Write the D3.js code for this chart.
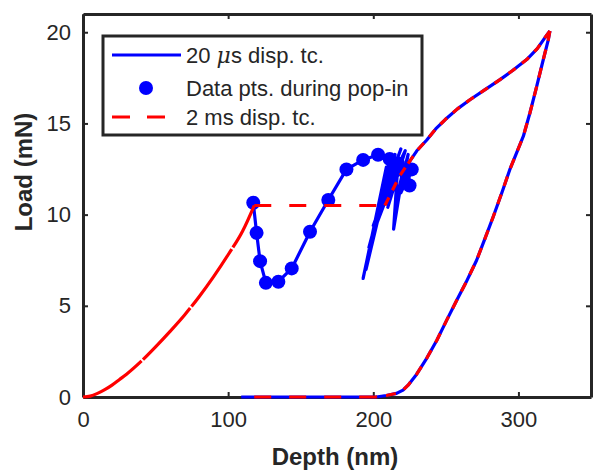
<!DOCTYPE html>
<html>
<head>
<meta charset="utf-8">
<script src="https://cdn.jsdelivr.net/npm/d3@7"></script>
<style>
  body { margin: 0; background: #fff; }
  svg { display: block; font-family: "Liberation Sans", Arial, sans-serif; }
</style>
</head>
<body>
<svg id="chart" width="594" height="471"></svg>
<script>
// depth (nm), load (mN)
var loadBeforePopIn = [[0,0],[5,0.05],[10,0.2],[15,0.4],[20,0.65],[25,0.95],[30,1.25],[40,1.95],[50,2.75],[60,3.6],[70,4.5],[80,5.5],[90,6.6],[100,7.8],[110,9.1],[118,10.5]];
var popInFlat = [[118,10.5],[208,10.5]];
var redReload = [[208,10.5],[213,11.3],[218,12.1],[224,12.8]];
var sharedLoading = [[224,12.8],[230,13.5],[236.7,14.08],[243,14.7],[249.4,15.2],[258,15.8],[266.6,16.3],[277,16.85],[287.3,17.4],[296,17.9],[305.7,18.5],[313,19.1],[319.5,19.84],[321.7,20.07]];
var sharedUnloading = [[321.7,20.07],[320.6,19.6],[316.5,18.3],[312.5,17.0],[308,15.6],[303.4,14.3],[298.8,13.4],[294.2,12.5],[289,11.3],[282.7,9.9],[277,8.7],[271.2,7.5],[264,6.3],[257.5,5.3],[250.5,4.2],[243.7,3.1],[237,2.15],[229.9,1.25],[224,0.65],[220.5,0.38],[216,0.2],[209,0.08],[202,0]];
var bottomFlat = [[202,0],[109,0]];
var bluePopIn = [[117.3,10.65],[119.6,9.0],[122,7.45],[126,6.26],[134.6,6.32],[143.8,7.05],[156.4,9.06],[169,10.8],[181.5,12.48],[193,13.0],[203.3,13.28],[211.3,13.05],
  [196,7.4],[209,12.6],[193,6.5],[208,12.2],[195,7.0],[213,13.0],[197,8.2],[215,13.3],[199,8.8],[212,11.5],[200,9.4],[219,13.6],[203,10.2],[217,12.4],
  [205,10.6],[222,13.5],[210,10.4],[217,12.8],[214,9.2],[221,12.6],[216,10.8],[224,13.3],[219,11.2],[226.5,12.48],[220,11.8],[225,11.6],[224,12.8]];
var popInDots = [[117.3,10.65],[119.6,9.0],[122,7.45],[126,6.26],[134.6,6.32],[143.8,7.05],[156.4,9.06],[169,10.8],[181.5,12.48],[193,13.0],[203.3,13.28],[211.3,13.05],[217,12.8],[222,12.3],[226.5,12.48],[225,11.6]];
var xTicks = [0,100,200,300];
var yTicks = [0,5,10,15,20];

var margin = { top: 14, right: 3, bottom: 74, left: 83 };
var width = 594 - margin.left - margin.right;
var height = 471 - margin.top - margin.bottom;
var BLUE = "#0000ff", RED = "#ff0000", AXIS = "#262626";

var x = d3.scaleLinear().domain([0, 350]).range([0, width]);
var y = d3.scaleLinear().domain([0, 21]).range([height, 0]);

var svg = d3.select("#chart").append("g")
  .attr("transform", "translate(" + margin.left + "," + margin.top + ")");

var line = d3.line().x(function(d) { return x(d[0]); }).y(function(d) { return y(d[1]); });
var smoothLine = d3.line().curve(d3.curveMonotoneX).x(function(d) { return x(d[0]); }).y(function(d) { return y(d[1]); });

function styleAxis(g) {
  g.select(".domain").attr("stroke", AXIS).attr("stroke-width", 3);
  g.selectAll(".tick line").attr("stroke", AXIS).attr("stroke-width", 2);
  g.selectAll(".tick text").attr("fill", "#262626").attr("font-size", 22)
    .attr("font-family", "Liberation Sans, Arial, sans-serif");
}

// axes first (box with inward ticks), data goes over them
svg.append("g")
  .attr("transform", "translate(0," + height + ")")
  .call(d3.axisBottom(x).tickValues(xTicks).tickSizeInner(-5).tickSizeOuter(0).tickPadding(14))
  .call(styleAxis);
svg.append("g")
  .call(d3.axisTop(x).tickValues(xTicks).tickSizeInner(-5).tickSizeOuter(0).tickFormat(""))
  .call(styleAxis);
svg.append("g")
  .call(d3.axisLeft(y).tickValues(yTicks).tickSizeInner(-5).tickSizeOuter(0).tickPadding(12))
  .call(styleAxis);
svg.append("g")
  .attr("transform", "translate(" + width + ",0)")
  .call(d3.axisRight(y).tickValues(yTicks).tickSizeInner(-5).tickSizeOuter(0).tickFormat(""))
  .call(styleAxis);

function drawLine(data, color, dash, gen) {
  svg.append("path")
    .datum(data)
    .attr("d", gen || line)
    .attr("fill", "none")
    .attr("stroke", color)
    .attr("stroke-width", 3.2)
    .attr("stroke-linejoin", "round")
    .attr("stroke-dasharray", dash || null);
}

// blue 20 us trace
drawLine(bluePopIn, BLUE);
drawLine(sharedLoading, BLUE);
drawLine(sharedUnloading, BLUE);
drawLine(bottomFlat, BLUE);

// pop-in markers
svg.selectAll(".dot")
  .data(popInDots)
  .enter().append("circle")
  .attr("cx", function(d) { return x(d[0]); })
  .attr("cy", function(d) { return y(d[1]); })
  .attr("r", 7)
  .attr("fill", BLUE);

// red 2 ms trace
drawLine(loadBeforePopIn, RED, "70,2", smoothLine);
drawLine(popInFlat, RED, "17,18");
drawLine(redReload, RED, "9,8");
drawLine(sharedLoading, RED, "9,8");
drawLine(sharedUnloading, RED, "10,9");
drawLine(bottomFlat, RED, "17,18");

// axis labels
svg.append("text")
  .attr("x", 252)
  .attr("y", height + 68)
  .attr("text-anchor", "middle")
  .attr("font-size", 24)
  .attr("font-weight", "bold")
  .attr("fill", "#262626")
  .text("Depth (nm)");
svg.append("text")
  .attr("transform", "translate(-51," + 158 + ") rotate(-90)")
  .attr("text-anchor", "middle")
  .attr("font-size", 24)
  .attr("font-weight", "bold")
  .attr("fill", "#262626")
  .text("Load (mN)");

// legend
var legend = svg.append("g").attr("transform", "translate(20,22)");
legend.append("rect")
  .attr("width", 319).attr("height", 99)
  .attr("fill", "#fff").attr("stroke", AXIS).attr("stroke-width", 3);
var rowY = [19, 52, 81];
legend.append("line").attr("x1", 9).attr("x2", 78).attr("y1", rowY[0]).attr("y2", rowY[0])
  .attr("stroke", BLUE).attr("stroke-width", 3.2);
legend.append("circle").attr("cx", 43).attr("cy", rowY[1]).attr("r", 7).attr("fill", BLUE);
legend.append("line").attr("x1", 9).attr("x2", 78).attr("y1", rowY[2]).attr("y2", rowY[2])
  .attr("stroke", RED).attr("stroke-width", 3.2).attr("stroke-dasharray", "18,17");

function legendText(i) {
  return legend.append("text")
    .attr("x", 83)
    .attr("y", rowY[i] + 8)
    .attr("font-size", 22)
    .attr("fill", "#262626");
}
var t0 = legendText(0);
t0.append("tspan").text("20 ");
t0.append("tspan").attr("font-style", "italic").attr("font-family", "DejaVu Serif, serif").text("\u03bc");
t0.append("tspan").text("s disp. tc.");
legendText(1).text("Data pts. during pop-in");
legendText(2).text("2 ms disp. tc.");
</script>
</body>
</html>
